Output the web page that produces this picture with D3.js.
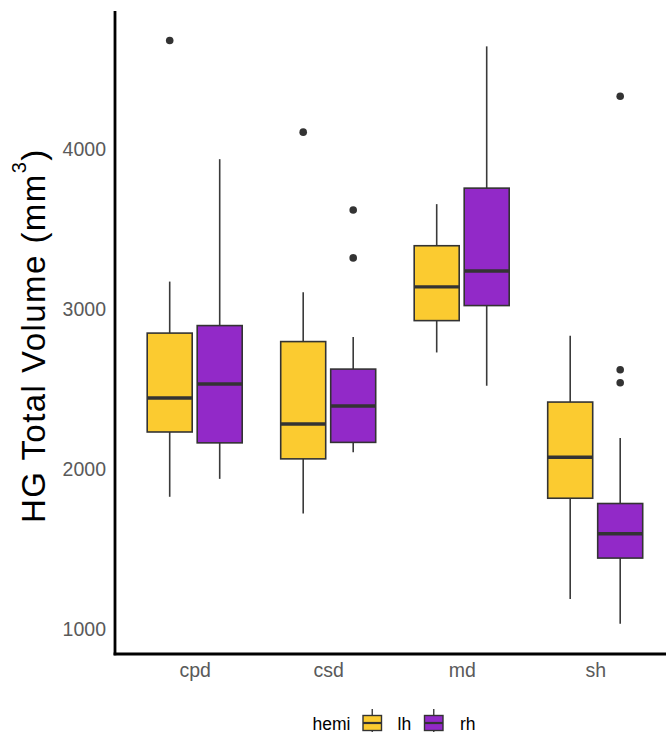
<!DOCTYPE html>
<html>
<head>
<meta charset="utf-8">
<script src="https://cdn.jsdelivr.net/npm/d3@7"></script>
<style>
  html, body { margin: 0; padding: 0; background: #ffffff; }
  svg { display: block; font-family: "Liberation Sans", Arial, sans-serif; }
</style>
</head>
<body>
<svg id="chart" width="668" height="732"></svg>
<script>
// ---- data ----
const categories = ["cpd", "csd", "md", "sh"];
const hemis = ["lh", "rh"];
const hemiColors = ["#FBCB30", "#9229C8"];
const yTicks = [1000, 2000, 3000, 4000];

// order of each array follows categories; [lh, rh]
const whiskerLow  = [[1825, 1937], [1720, 2103], [2727, 2519], [1186, 1032]];
const q1          = [[2230, 2162], [2062, 2165], [2926, 3020], [1816, 1442]];
const median      = [[2442, 2530], [2280, 2392], [3137, 3236], [2072, 1594]];
const q3          = [[2848, 2895], [2795, 2623], [3394, 3754], [2417, 1783]];
const whiskerHigh = [[3170, 3935], [3104, 2823], [3654, 4640], [2831, 2193]];
const outliers    = [[[4677], []], [[4104], [3617, 3318]], [[], []], [[], [4328, 2619, 2538]]];

// ---- layout ----
const svg = d3.select("#chart");
const panel = { left: 115, right: 666, top: 11, bottom: 654 };

const y = d3.scaleLinear().domain([842.5, 4861]).range([panel.bottom, panel.top]);
const x = d3.scalePoint().domain(categories).range([194.7, 595.2]);
const dodge = d3.scaleBand().domain(hemis).range([-50, 50]);
const color = d3.scaleOrdinal().domain(hemis).range(hemiColors);
const boxW = dodge.bandwidth() * 0.9;

// build rows
const rows = [];
categories.forEach((c, i) => {
  hemis.forEach((h, j) => {
    rows.push({
      cat: c, hemi: h,
      lo: whiskerLow[i][j], q1: q1[i][j], med: median[i][j], q3: q3[i][j], hi: whiskerHigh[i][j],
      out: outliers[i][j]
    });
  });
});

const g = svg.append("g");
const cx = d => x(d.cat) + dodge(d.hemi) + dodge.bandwidth() / 2;

const box = g.selectAll("g.box").data(rows).join("g").attr("class", "box");

// whiskers
box.append("line")
  .attr("x1", cx).attr("x2", cx)
  .attr("y1", d => y(d.hi)).attr("y2", d => y(d.q3))
  .attr("stroke", "#3a3a3a").attr("stroke-width", 1.6);
box.append("line")
  .attr("x1", cx).attr("x2", cx)
  .attr("y1", d => y(d.q1)).attr("y2", d => y(d.lo))
  .attr("stroke", "#3a3a3a").attr("stroke-width", 1.6);

// boxes
box.append("rect")
  .attr("x", d => cx(d) - boxW / 2)
  .attr("width", boxW)
  .attr("y", d => y(d.q3))
  .attr("height", d => y(d.q1) - y(d.q3))
  .attr("fill", d => color(d.hemi))
  .attr("stroke", "#333333").attr("stroke-width", 1.6);

// medians
box.append("line")
  .attr("x1", d => cx(d) - boxW / 2).attr("x2", d => cx(d) + boxW / 2)
  .attr("y1", d => y(d.med)).attr("y2", d => y(d.med))
  .attr("stroke", "#333333").attr("stroke-width", 3.4);

// outliers
box.selectAll("circle").data(d => d.out.map(v => ({ v, d }))).join("circle")
  .attr("cx", o => cx(o.d)).attr("cy", o => y(o.v)).attr("r", 3.8)
  .attr("fill", "#333333");

// ---- axes ----
const yAxis = d3.axisLeft(y).tickValues(yTicks).tickSize(0).tickPadding(9).tickFormat(d3.format("d"));
const yg = svg.append("g").attr("transform", `translate(${panel.left},0)`).call(yAxis);
yg.select(".domain").remove();
yg.selectAll("text").attr("font-size", 19.5).attr("fill", "#5a5a5a").attr("font-family", "Liberation Sans, Arial, sans-serif");

const xAxis = d3.axisBottom(x).tickSize(0).tickPadding(9);
const xg = svg.append("g").attr("transform", `translate(0,${panel.bottom})`).call(xAxis);
xg.select(".domain").remove();
xg.selectAll("text").attr("font-size", 19.5).attr("fill", "#5a5a5a").attr("font-family", "Liberation Sans, Arial, sans-serif")
  .attr("dy", "0.71em");

// axis lines
svg.append("line").attr("x1", panel.left).attr("x2", panel.left)
  .attr("y1", panel.top).attr("y2", panel.bottom + 1.3)
  .attr("stroke", "#000").attr("stroke-width", 2.8);
svg.append("line").attr("x1", panel.left - 1.4).attr("x2", panel.right)
  .attr("y1", panel.bottom).attr("y2", panel.bottom)
  .attr("stroke", "#000").attr("stroke-width", 2.8);

// ---- y title ----
const title = svg.append("text")
  .attr("transform", "translate(45,523) rotate(-90)")
  .attr("font-size", 33).attr("fill", "#000")
  .attr("letter-spacing", 1.45)
  .attr("text-anchor", "start");
title.append("tspan").text("HG Total Volume (mm");
title.append("tspan").text("3").attr("font-size", 20).attr("dy", -19);
title.append("tspan").text(")").attr("dy", 19);

// ---- legend ----
const leg = svg.append("g");
leg.append("text").attr("x", 312.5).attr("y", 729.5).attr("font-size", 17.5).attr("fill", "#000").text("hemi");
const keyX = [363, 424.5];
const labX = [397.5, 460];
hemis.forEach((h, i) => {
  const k = leg.append("g");
  const kx = keyX[i], kw = 18.5;
  k.append("line").attr("x1", kx + kw / 2).attr("x2", kx + kw / 2).attr("y1", 709).attr("y2", 736)
    .attr("stroke", "#3a3a3a").attr("stroke-width", 1.4);
  k.append("rect").attr("x", kx).attr("y", 715.5).attr("width", kw).attr("height", 15)
    .attr("fill", color(h)).attr("stroke", "#333").attr("stroke-width", 1.4);
  k.append("line").attr("x1", kx).attr("x2", kx + kw).attr("y1", 723).attr("y2", 723)
    .attr("stroke", "#333").attr("stroke-width", 2.2);
  leg.append("text").attr("x", labX[i]).attr("y", 729.5).attr("font-size", 17.5).attr("fill", "#000").text(h);
});
</script>
</body>
</html>
